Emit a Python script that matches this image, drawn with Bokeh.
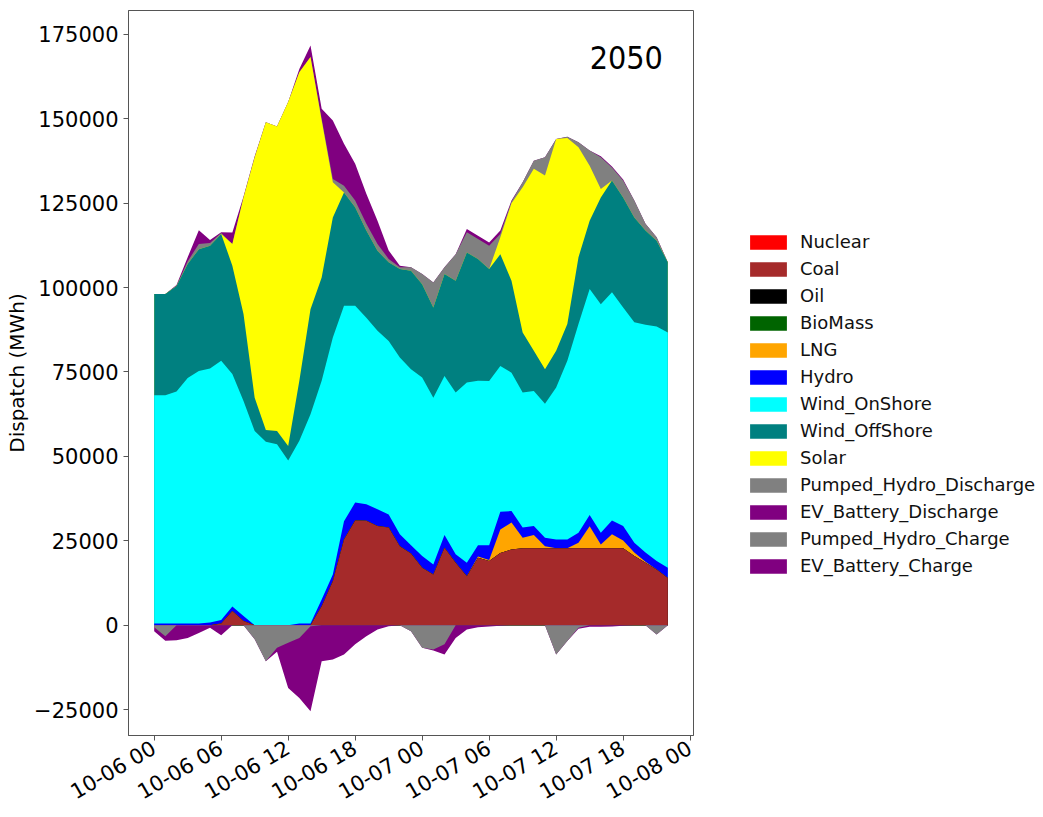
import numpy as np
import pandas as pd
from bokeh.plotting import figure
from bokeh.layouts import row
from bokeh.models import (ColumnDataSource, Range1d, FixedTicker, DatetimeTickFormatter,
                          CustomJSTickFormatter, Legend, LegendItem, Label)
from bokeh.embed import file_html
from bokeh.resources import INLINE

# Hourly dispatch, 2050-10-06 00:00 .. 2050-10-07 22:00 (MWh)
times = pd.date_range("2050-10-06 00:00", periods=47, freq="h")

nuclear = [0, 0, 0, 0, 0, 0, 0, 0, 0, 0, 0, 0, 0, 0, 0, 0, 0, 0, 0, 0, 0, 0, 0, 0,
           0, 0, 0, 0, 0, 0, 0, 0, 0, 0, 0, 0, 0, 0, 0, 0, 0, 0, 0, 0, 0, 0, 0]
coal = [0, 0, 0, 0, 0, 0, 500, 4200, 1200, 0, 0, 0, 0, 0, 0, 5600, 13000, 25400, 31000, 30900,
        29400, 28900, 23400, 21200, 17000, 15000, 22900, 18500, 14500, 20000, 19000, 21400,
        22400, 22800, 22800, 22800, 22800, 22800, 22800, 22800, 22800, 22800, 22800, 20500,
        18500, 16500, 14000]
oil = [0, 0, 0, 0, 0, 0, 0, 0, 0, 0, 0, 0, 0, 0, 0, 0, 0, 0, 0, 0, 0, 0, 0, 0,
       0, 0, 0, 0, 0, 0, 0, 0, 0, 0, 0, 0, 0, 0, 0, 0, 0, 0, 0, 0, 0, 0, 0]
biomass = [0, 0, 0, 0, 0, 0, 0, 0, 0, 0, 0, 0, 0, 0, 0, 0, 0, 0, 0, 0, 0, 0, 0, 0,
           0, 0, 0, 0, 0, 0, 0, 0, 0, 0, 0, 0, 0, 0, 0, 0, 0, 0, 0, 0, 0, 0, 0]
lng = [0, 0, 0, 0, 0, 0, 0, 0, 0, 0, 0, 0, 0, 0, 0, 0, 0, 0, 0, 0, 0, 0, 0, 0,
       0, 0, 0, 0, 0, 300, 300, 6900, 8000, 3100, 3900, 600, 0, 0, 1600, 6500, 1100, 4100,
       2300, 1000, 300, 0, 0]
hydro = [500, 500, 500, 500, 500, 800, 1000, 1300, 1500, 0, 0, 0, 0, 500, 500, 2000, 2000,
         5400, 5300, 4900, 4900, 3900, 3500, 2500, 3500, 3000, 3800, 2500, 4000, 3400, 4400,
         5300, 3400, 3000, 2700, 2500, 2600, 2600, 3000, 3300, 3500, 4100, 4300, 2900, 2700,
         2500, 3000]
wind_onshore = [67600, 67600, 68700, 72700, 74800, 75200, 76800, 68900, 63700, 57500, 54300,
                53600, 48800, 54100, 62000, 64800, 70200, 63800, 58300, 55300, 52900, 51400,
                52400, 52100, 52900, 49400, 47100, 47900, 53400, 48700, 48600, 43200, 41000,
                40000, 40000, 39700, 45000, 52900, 61800, 67000, 67700, 67600, 64700, 65300,
                67500, 69500, 69700]
wind_offshore = [30000, 30000, 31300, 33800, 36100, 36400, 37600, 32100, 25800, 9900, 3500,
                 3900, 4300, 17800, 31100, 30600, 35600, 33600, 29200, 25800, 23700, 23300,
                 26200, 29200, 27600, 26700, 30200, 33100, 38500, 36100, 33200, 33100, 27200,
                 17800, 11900, 10200, 10900, 10900, 19800, 20200, 31600, 33100, 32600, 31100,
                 27900, 25400, 20800]
solar = [0, 0, 0, 0, 0, 0, 0, 6400, 34500, 71200, 91200, 90200, 101900, 91400, 74700, 46500,
         10400, 0, 0, 0, 0, 0, 0, 0, 0, 0, 0, 0, 0, 0, 0, 5000, 23000, 43000, 53900, 57400,
         62700, 55100, 32600, 16300, 2500, 0, 0, 0, 0, 0, 0]
pumped_hydro_discharge = [0, 0, 0, 800, 1500, 800, 300, 0, 0, 0, 0, 0, 0, 0, 0, 500, 1000,
                          2000, 2000, 2000, 2000, 1000, 500, 1000, 3000, 7400, 2000, 7900,
                          6000, 5900, 6900, 1000, 500, 1500, 2400, 5400, 0, 400, 1500, 4500,
                          9400, 3900, 5000, 5000, 2000, 1000, 0]
ev_battery_discharge = [0, 0, 300, 1200, 4100, 900, 200, 3400, 300, 300, 0, 0, 0, 1000, 3400,
                        3000, 17300, 12400, 10900, 8900, 6900, 2500, 500, 0, 0, 0, 0, 0, 1000,
                        1000, 1000, 1000, 300, 0, 0, 0, 0, 0, 0, 0, 300, 300, 300, 0, 0, 0, 0]
pumped_hydro_charge = [-600, -3300, 0, 0, 0, 0, 0, 0, 0, -4200, -10700, -6700, -5200, -3800,
                       -300, 0, 0, 0, 0, 0, 0, 0, 0, -1800, -6700, -7200, -5700, 0, 0, 0, 0,
                       0, 0, 0, 0, 0, -8700, -4700, -800, 0, 0, 0, 0, 0, 0, -2800, 0]
ev_battery_charge = [-1200, -1300, -4500, -3800, -2300, -800, -3000, 0, 0, 0, 0, -1200, -13400,
                     -17800, -25200, -10700, -10200, -8700, -5700, -3300, -1300, -300, 0, 0, 0,
                     -300, -3000, -3800, -1300, -600, -400, -200, 0, 0, 0, 0, 0, 0, -300, -500,
                     -500, -400, -200, 0, 0, 0, 0]

supply_names = ["Nuclear", "Coal", "Oil", "BioMass", "LNG", "Hydro", "Wind_OnShore",
                "Wind_OffShore", "Solar", "Pumped_Hydro_Discharge", "EV_Battery_Discharge"]
supply_values = [nuclear, coal, oil, biomass, lng, hydro, wind_onshore, wind_offshore, solar,
                 pumped_hydro_discharge, ev_battery_discharge]
supply_colors = ["red", "brown", "black", "darkgreen", "orange", "blue", "cyan", "teal",
                 "yellow", "grey", "purple"]
charge_names = ["Pumped_Hydro_Charge", "EV_Battery_Charge"]
charge_values = [pumped_hydro_charge, ev_battery_charge]
charge_colors = ["grey", "purple"]

tick_times = pd.date_range("2050-10-06 00:00", "2050-10-08 00:00", freq="6h")
y_ticks = [-25000, 0, 25000, 50000, 75000, 100000, 125000, 150000, 175000]

# cumulative tops of both stacks
data = {"time": times}
supply_cum = np.cumsum(np.array(supply_values, dtype=float), axis=0)
charge_cum = np.cumsum(np.array(charge_values, dtype=float), axis=0)
for name, col in zip(supply_names, supply_cum):
    data[name + "_top"] = col
for name, col in zip(charge_names, charge_cum):
    data[name + "_top"] = col
data["zero"] = np.zeros(len(times))
source = ColumnDataSource(data)

pad = pd.Timedelta(hours=2.3)
fig = figure(width=700, height=817, x_axis_type="datetime", output_backend="svg",
             toolbar_location=None,
             x_range=Range1d((times[0] - pad).to_pydatetime(), (times[-1] + pad).to_pydatetime()),
             y_range=Range1d(-32700, 182100),
             min_border_left=128, min_border_right=7, min_border_top=10, min_border_bottom=72)

# each layer is painted from zero up to its cumulative top, upper layers first,
# so neighbouring areas share edges without seams
for name, color in reversed(list(zip(supply_names, supply_colors))):
    fig.varea(x="time", y1="zero", y2=name + "_top", source=source, fill_color=color)
for name, color in reversed(list(zip(charge_names, charge_colors))):
    fig.varea(x="time", y1="zero", y2=name + "_top", source=source, fill_color=color)

# axes
fig.xgrid.visible = False
fig.ygrid.visible = False
fig.outline_line_color = "#555555"
fig.outline_line_width = 1
for ax in (fig.xaxis[0], fig.yaxis[0]):
    ax.axis_line_color = "#555555"
    ax.major_tick_line_color = "#555555"
    ax.major_tick_out = 5
    ax.major_tick_in = 0
    ax.minor_tick_line_color = None
    ax.major_label_text_font = "DejaVu Sans"
    ax.major_label_text_font_size = "21px"
    ax.major_label_text_color = "black"

fig.xaxis.ticker = FixedTicker(ticks=[t.value / 1e6 for t in tick_times])
fmt = "%m-%d %H"
fig.xaxis.formatter = DatetimeTickFormatter(microseconds=fmt, milliseconds=fmt, seconds=fmt,
                                            minsec=fmt, minutes=fmt, hourmin=fmt, hours=fmt,
                                            days=fmt, months=fmt, years=fmt,
                                            strip_leading_zeros=False)
fig.xaxis.major_label_orientation = np.pi / 6
fig.xaxis.major_label_standoff = 6

fig.yaxis.ticker = FixedTicker(ticks=y_ticks)
fig.yaxis.formatter = CustomJSTickFormatter(
    code="return (tick < 0 ? '\u2212' : '') + Math.abs(tick).toFixed(0);")
fig.yaxis.major_label_standoff = 5
fig.yaxis.axis_label = "Dispatch (MWh)"
fig.yaxis.axis_label_text_font = "DejaVu Sans"
fig.yaxis.axis_label_text_font_size = "20px"
fig.yaxis.axis_label_text_font_style = "normal"
fig.yaxis.axis_label_text_color = "black"
fig.yaxis.axis_label_standoff = 2

# scenario year
year_x = (times[0] + pd.Timedelta(hours=39.0)).value / 1e6
fig.add_layout(Label(x=year_x, y=168200, text="2050", text_font="DejaVu Sans Condensed",
                     text_font_size="32px", text_color="black", text_baseline="alphabetic",
                     text_align="left"))

# legend figure to the right of the chart; its swatches are empty areas in the same colours
key = figure(width=343, height=817, output_backend="svg", toolbar_location=None,
             x_range=Range1d(0, 1), y_range=Range1d(0, 1),
             x_axis_location=None, y_axis_location=None, min_border=0)
key.grid.visible = False
key.outline_line_color = None
legend_names = supply_names + charge_names
legend_colors = supply_colors + charge_colors
items = []
for name, color in zip(legend_names, legend_colors):
    r = key.varea(x=[0, 1], y1=[0, 0], y2=[0, 0], fill_color=color)
    items.append(LegendItem(label=name, renderers=[r]))
legend = Legend(items=items, location=(45, 159), padding=0, margin=0,
                glyph_width=46, glyph_height=18, label_height=20, spacing=6,
                label_standoff=9, label_text_font="DejaVu Sans",
                label_text_font_size="18px", label_text_color="#111111",
                border_line_alpha=0, background_fill_alpha=0)
key.add_layout(legend, "center")

p = row(fig, key, spacing=0)

open("out.html", "w").write(file_html(p, INLINE))
